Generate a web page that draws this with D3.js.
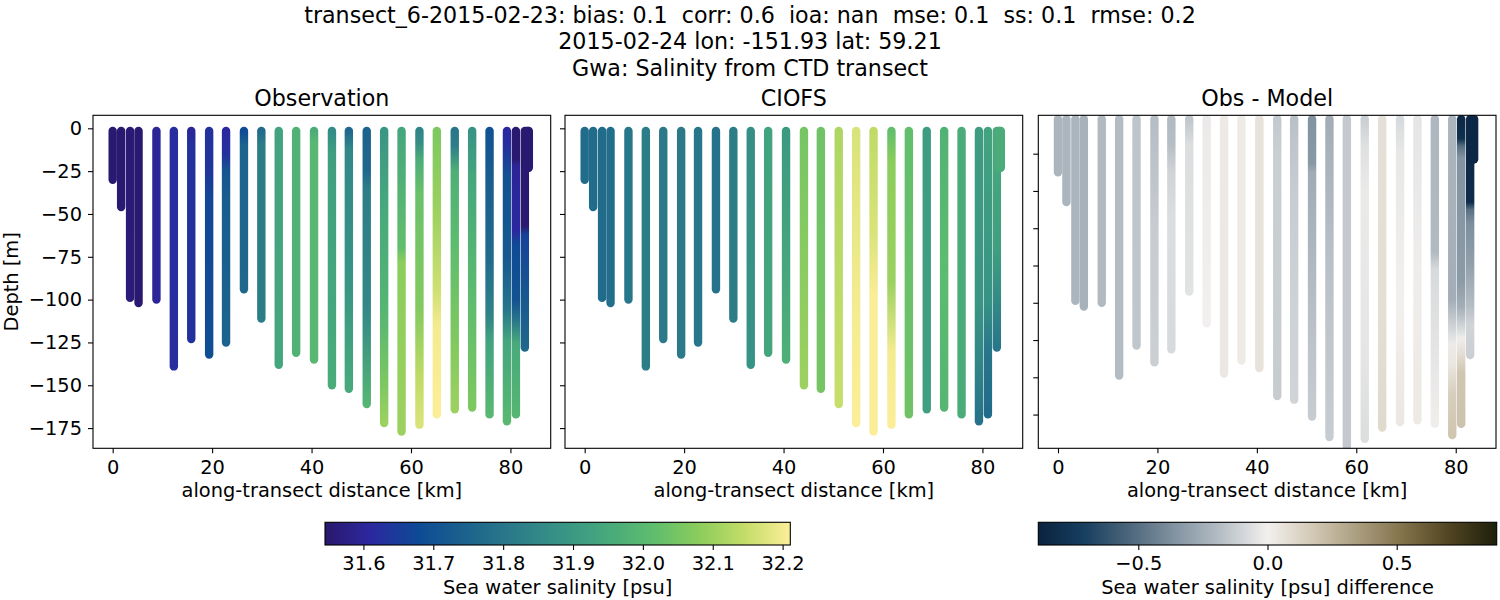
<!DOCTYPE html>
<html><head><meta charset="utf-8">
<script src="https://cdn.jsdelivr.net/npm/d3@7"></script>
<style>
body{margin:0;background:#fff}
text{font-family:"DejaVu Sans",sans-serif;fill:#000}
</style>
</head><body>
<svg id="c" width="1500" height="600"></svg>
<script>
// ---------------- DATA ----------------
const titleLines = [
  "transect_6-2015-02-23: bias: 0.1  corr: 0.6  ioa: nan  mse: 0.1  ss: 0.1  rmse: 0.2",
  "2015-02-24 lon: -151.93 lat: 59.21",
  "Gwa: Salinity from CTD transect"
];
const panelTitles = ["Observation", "CIOFS", "Obs - Model"];
const xLabel = "along-transect distance [km]";
const yLabel = "Depth [m]";
const cbLabels = ["Sea water salinity [psu]", "Sea water salinity [psu] difference"];

const stationKm = [0, 1.7, 3.5, 5.2, 8.8, 12.3, 15.8, 19.4, 22.8, 26.4, 29.9, 33.4, 36.9, 40.5, 44.1,
  47.5, 51.1, 54.6, 58.1, 61.7, 65.2, 68.8, 72.3, 75.8, 79.3, 81.1, 82.9, 83.3, 83.5, 83.7];

// profiles: [depth (m, positive down), value]
const obsProfiles = [
  [[1.5,31.55],[30,31.55]],
  [[1.5,31.55],[46,31.55]],
  [[1.5,31.555],[99,31.56]],
  [[1.5,31.55],[102,31.55]],
  [[1.5,31.60],[100,31.60]],
  [[1.5,31.62],[139,31.62]],
  [[1.5,31.60],[10,31.63],[123,31.63]],
  [[1.5,31.63],[25,31.64],[40,31.67],[132,31.69]],
  [[1.5,31.61],[15,31.63],[25,31.71],[45,31.73],[125,31.75]],
  [[1.5,31.68],[10,31.75],[94,31.76]],
  [[1.5,31.77],[10,31.82],[111,31.82]],
  [[1.5,31.93],[138,31.94]],
  [[1.5,31.98],[131,31.98]],
  [[1.5,31.96],[8,32.0],[135,32.0]],
  [[1.5,31.86],[15,31.92],[100,31.94],[150,31.96]],
  [[1.5,31.76],[12,31.85],[85,31.88],[152,31.95]],
  [[1.5,31.75],[25,31.76],[35,31.82],[105,31.85],[161,31.99]],
  [[1.5,31.89],[48,31.95],[106,31.99],[150,32.06],[172,32.1]],
  [[1.5,31.94],[70,32.02],[78,32.08],[177,32.1]],
  [[1.5,31.84],[8,31.86],[18,31.96],[38,32.03],[106,32.07],[145,32.14],[173,32.17]],
  [[1.5,32.06],[48,32.1],[96,32.16],[115,32.2],[167,32.21]],
  [[1.5,31.8],[10,31.82],[25,31.97],[67,32.01],[130,32.07],[164,32.1]],
  [[1.5,31.88],[28,31.94],[87,32.0],[163,32.06]],
  [[1.5,31.7],[28,31.73],[76,31.77],[110,31.84],[124,31.93],[167,32.0]],
  [[1.5,31.61],[9,31.62],[28,31.7],[76,31.72],[106,31.8],[124,31.94],[171,32.0]],
  [[1.5,31.55],[18,31.55],[22,31.6],[60,31.61],[68,31.68],[100,31.7],[112,31.8],[125,31.95],[167,31.99]],
  [[1.5,31.55],[57,31.55],[62,31.66],[100,31.72],[128,31.76]],
  [[1.5,31.55],[23,31.55]],
  [[1.5,31.55],[23,31.55]],
  [[1.5,31.55],[23,31.55]]
];

const modelProfiles = [
  [[1.5,31.77],[30,31.77]],
  [[1.5,31.77],[46,31.77]],
  [[1.5,31.77],[99,31.77]],
  [[1.5,31.78],[102,31.78]],
  [[1.5,31.80],[100,31.80]],
  [[1.5,31.82],[139,31.82]],
  [[1.5,31.81],[123,31.81]],
  [[1.5,31.81],[132,31.81]],
  [[1.5,31.80],[125,31.80]],
  [[1.5,31.79],[94,31.79]],
  [[1.5,31.82],[111,31.82]],
  [[1.5,31.87],[138,31.88]],
  [[1.5,31.93],[131,31.94]],
  [[1.5,31.90],[135,31.97]],
  [[1.5,32.05],[150,32.10]],
  [[1.5,32.04],[152,32.05]],
  [[1.5,32.12],[161,32.15]],
  [[1.5,32.17],[100,32.20],[172,32.21]],
  [[1.5,32.14],[60,32.17],[100,32.21],[177,32.21]],
  [[1.5,32.02],[20,32.08],[90,32.10],[130,32.20],[173,32.21]],
  [[1.5,32.02],[167,32.04]],
  [[1.5,31.91],[164,31.92]],
  [[1.5,31.98],[80,32.01],[163,31.99]],
  [[1.5,31.96],[167,31.96]],
  [[1.5,31.91],[100,31.89],[140,31.84],[171,31.79]],
  [[1.5,31.93],[100,31.88],[130,31.80],[167,31.77]],
  [[1.5,31.95],[70,31.92],[128,31.80]],
  [[1.5,31.96],[23,31.96]],
  [[1.5,31.96],[23,31.96]],
  [[1.5,31.96],[23,31.96]]
];

const diffProfiles = [
  [[1.5,-0.22],[30,-0.22]],
  [[1.5,-0.22],[46,-0.22]],
  [[1.5,-0.22],[99,-0.22]],
  [[1.5,-0.23],[102,-0.23]],
  [[1.5,-0.20],[100,-0.20]],
  [[1.5,-0.19],[139,-0.19]],
  [[1.5,-0.16],[123,-0.15]],
  [[1.5,-0.18],[30,-0.16],[60,-0.13],[132,-0.12]],
  [[1.5,-0.20],[15,-0.18],[30,-0.10],[55,-0.07],[125,-0.08]],
  [[1.5,-0.15],[15,-0.07],[94,-0.05]],
  [[1.5,-0.02],[111,0.0]],
  [[1.5,0.03],[138,0.04]],
  [[1.5,0.02],[131,0.02]],
  [[1.5,0.06],[135,0.06]],
  [[1.5,-0.14],[20,-0.12],[150,-0.13]],
  [[1.5,-0.17],[40,-0.13],[100,-0.11],[152,-0.10]],
  [[1.5,-0.36],[25,-0.34],[30,-0.26],[100,-0.18],[161,-0.13]],
  [[1.5,-0.25],[80,-0.17],[172,-0.13]],
  [[1.5,-0.14],[177,-0.14]],
  [[1.5,-0.12],[15,-0.06],[40,-0.02],[130,-0.04],[173,-0.07]],
  [[1.5,0.07],[100,0.08],[167,0.10]],
  [[1.5,-0.08],[20,-0.03],[100,0.0],[164,0.04]],
  [[1.5,-0.04],[80,-0.01],[163,0.03]],
  [[1.5,-0.21],[73,-0.20],[82,-0.08],[165,0.01]],
  [[1.5,-0.22],[43,-0.23],[98,-0.25],[109,-0.14],[122,-0.02],[132,0.04],[149,0.15],[171,0.19]],
  [[1.5,-0.85],[12,-0.80],[16,-0.50],[22,-0.36],[88,-0.33],[102,-0.25],[112,-0.11],[119,-0.01],[127,0.08],[138,0.19],[165,0.20]],
  [[1.5,-0.85],[46,-0.83],[50,-0.50],[57,-0.38],[79,-0.31],[102,-0.18],[112,-0.10],[128,-0.12]],
  [[1.5,-0.86],[23,-0.86]],
  [[1.5,-0.86],[23,-0.86]],
  [[1.5,-0.86],[23,-0.86]]
];

const distTicks = [0, 20, 40, 60, 80];
const depthTicks = [0, -25, -50, -75, -100, -125, -150, -175];
const diffDepthTicks = [-20, -40, -60, -80, -100, -120, -140, -160];
const salTicks = [31.6, 31.7, 31.8, 31.9, 32.0, 32.1, 32.2];
const diffTicks = [-0.5, 0.0, 0.5];
const salRange = [31.545, 32.211];
const diffRange = [-0.887, 0.887];
const halineColors = ["#2a186c","#2b28a0","#0e4a95","#1b628d","#2b7a89","#379285","#46a77d","#5cbc6e","#89cc5c","#c3dc67","#fdee99"];
const diffColors = ["#0a2240","#173f5f","#4d677c","#8494a2","#b7bfc6","#f2f0ee","#d2c8b4","#a89c7c","#807048","#4f4320","#1d1f0b"];

// ---------------- LAYOUT ----------------
const svg = d3.select("#c");
const defs = svg.append("defs");
const panelLefts = [93, 565, 1038.3];
const panelW = 457.7, pTop = 115.3, pBot = 448.3, pH = pBot - pTop;
const FS_T = 22.2, FS = 19.4;

function cmap(colors, range) {
  const n = colors.length;
  return d3.scaleLinear()
    .domain(d3.range(n).map(i => range[0] + i * (range[1] - range[0]) / (n - 1)))
    .range(colors).interpolate(d3.interpolateRgb).clamp(true);
}
const salScale = cmap(halineColors, salRange);
const diffScale = cmap(diffColors, diffRange);

const x = d3.scaleLinear().domain([-3.96, 88.1]).range([0, panelW]);
const yMain = d3.scaleLinear().domain([-186.8, 7.6]).range([pH, 0]);
const yDiff = d3.scaleLinear().domain([-178.1, 0.6]).range([pH, 0]);

// titles
titleLines.forEach((t, i) => {
  svg.append("text").attr("x", 750).attr("y", 22.5 + i * 26.5)
    .attr("text-anchor", "middle").style("font-size", FS_T + "px")
    .style("white-space", "pre").text(t);
});

const panels = [
  {profiles: obsProfiles, color: salScale, y: yMain, ticks: depthTicks, labels: true},
  {profiles: modelProfiles, color: salScale, y: yMain, ticks: depthTicks, labels: false},
  {profiles: diffProfiles, color: diffScale, y: yDiff, ticks: diffDepthTicks, labels: false}
];

panels.forEach((p, pi) => {
  const g = svg.append("g").attr("transform", `translate(${panelLefts[pi]},${pTop})`);
  defs.append("clipPath").attr("id", "clip" + pi)
    .append("rect").attr("x", 0).attr("y", 0).attr("width", panelW).attr("height", pH);
  const plot = g.append("g").attr("clip-path", `url(#clip${pi})`);

  p.profiles.forEach((prof, si) => {
    const d0 = prof[0][0], d1 = prof[prof.length - 1][0];
    const gid = `g${pi}_${si}`;
    const grad = defs.append("linearGradient").attr("id", gid)
      .attr("gradientUnits", "userSpaceOnUse")
      .attr("x1", 0).attr("x2", 0)
      .attr("y1", p.y(-d0)).attr("y2", p.y(-d1));
    prof.forEach(([d, v]) => {
      grad.append("stop").attr("offset", (d - d0) / (d1 - d0)).attr("stop-color", p.color(v));
    });
    const xs = x(stationKm[si]);
    plot.append("line")
      .attr("x1", xs).attr("x2", xs)
      .attr("y1", p.y(-d0)).attr("y2", p.y(-d1))
      .attr("stroke", `url(#${gid})`).attr("stroke-width", 8.4)
      .attr("stroke-linecap", "round");
  });

  // frame
  g.append("rect").attr("x", 0).attr("y", 0).attr("width", panelW).attr("height", pH)
    .attr("fill", "none").attr("stroke", "#000").attr("stroke-width", 1.1);

  // x axis
  const xa = g.append("g").attr("transform", `translate(0,${pH})`)
    .call(d3.axisBottom(x).tickValues(distTicks).tickSize(5).tickPadding(7).tickFormat(d3.format("d")));
  xa.select(".domain").remove();
  xa.selectAll("text").style("font-size", FS + "px").style("font-family", "DejaVu Sans");
  xa.selectAll("line").attr("stroke-width", 1.1);

  // y axis
  const ya = g.append("g")
    .call(d3.axisLeft(p.y).tickValues(p.ticks).tickSize(5).tickPadding(6)
      .tickFormat(p.labels ? d3.format("d") : () => ""));
  ya.select(".domain").remove();
  ya.selectAll("text").style("font-size", FS + "px").style("font-family", "DejaVu Sans");
  ya.selectAll("line").attr("stroke-width", 1.1);

  // titles and labels
  g.append("text").attr("x", panelW / 2).attr("y", 106 - pTop)
    .attr("text-anchor", "middle").style("font-size", FS_T + "px").text(panelTitles[pi]);
  g.append("text").attr("x", panelW / 2).attr("y", 497 - pTop)
    .attr("text-anchor", "middle").style("font-size", FS + "px").text(xLabel);
});

svg.append("text").attr("transform", `translate(18,${(pTop + pBot) / 2}) rotate(-90)`)
  .attr("text-anchor", "middle").style("font-size", FS + "px").text(yLabel);

// colorbars
const cbs = [
  {x0: 325, x1: 790.3, range: salRange, scale: salScale, ticks: salTicks, fmt: d3.format(".1f"), label: cbLabels[0]},
  {x0: 1038.3, x1: 1496.7, range: diffRange, scale: diffScale, ticks: diffTicks, fmt: d3.format(".1f"), label: cbLabels[1]}
];
const cbTop = 522.3, cbH = 22.7;
cbs.forEach((cb, ci) => {
  const id = "cbg" + ci;
  const grad = defs.append("linearGradient").attr("id", id);
  d3.range(0, 1.0001, 0.02).forEach(t => {
    grad.append("stop").attr("offset", t)
      .attr("stop-color", cb.scale(cb.range[0] + t * (cb.range[1] - cb.range[0])));
  });
  const cx = d3.scaleLinear().domain(cb.range).range([0, cb.x1 - cb.x0]);
  const g = svg.append("g").attr("transform", `translate(${cb.x0},${cbTop})`);
  g.append("rect").attr("width", cb.x1 - cb.x0).attr("height", cbH)
    .attr("fill", `url(#${id})`).attr("stroke", "#000").attr("stroke-width", 1.1);
  const ax = g.append("g").attr("transform", `translate(0,${cbH})`)
    .call(d3.axisBottom(cx).tickValues(cb.ticks).tickSize(5).tickPadding(6).tickFormat(cb.fmt));
  ax.select(".domain").remove();
  ax.selectAll("text").style("font-size", FS + "px").style("font-family", "DejaVu Sans");
  ax.selectAll("line").attr("stroke-width", 1.1);
  g.append("text").attr("x", (cb.x1 - cb.x0) / 2).attr("y", 594 - cbTop)
    .attr("text-anchor", "middle").style("font-size", FS + "px").text(cb.label);
});
</script>
</body></html>
